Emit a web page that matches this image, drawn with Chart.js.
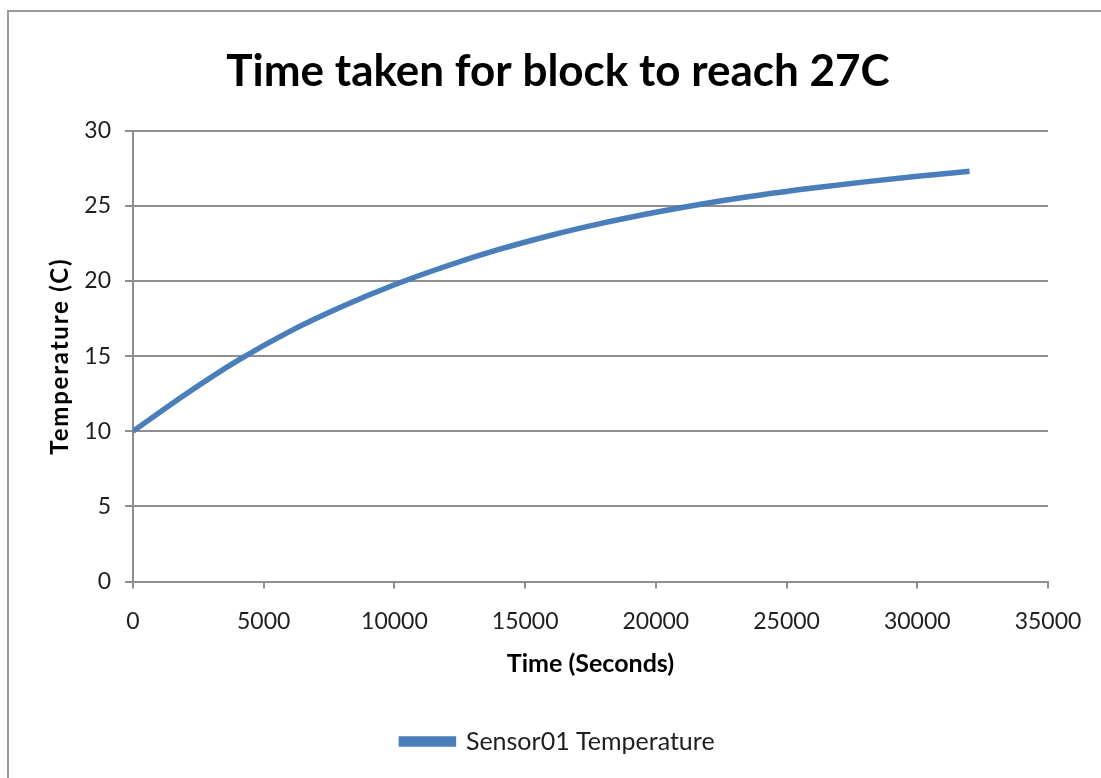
<!DOCTYPE html>
<html>
<head>
<meta charset="utf-8">
<script src="https://cdn.jsdelivr.net/npm/chart.js@4.4.1/dist/chart.umd.min.js"></script>
<style>
  html, body { margin: 0; padding: 0; background: #ffffff; }
  #wrap { position: relative; width: 1101px; height: 778px; overflow: hidden; }
  #frame { position: absolute; left: 7px; top: 10px; width: 1200px; height: 900px;
           border-left: 2px solid #9a9a9a; border-top: 2px solid #9a9a9a; }
  canvas { position: absolute; left: 0; top: 0; }
</style>
</head>
<body>
<div id="wrap">
  <div id="frame"></div>
  <canvas id="c" width="1101" height="778"></canvas>
</div>
<script>
const chartTitle = 'Time taken for block to reach 27C';
const xAxisTitle = 'Time (Seconds)';
const yAxisTitle = 'Temperature (C)';
const seriesName = 'Sensor01 Temperature';
const timeSeconds = [0, 2000, 4000, 6000, 8000, 10000, 12000, 14000, 16000, 18000, 20000, 22000, 24000, 26000, 28000, 30000, 32000];
const temperature = [10.00, 12.45, 14.70, 16.65, 18.30, 19.75, 21.00, 22.10, 23.05, 23.87, 24.58, 25.20, 25.73, 26.19, 26.60, 26.97, 27.30];
const xTicks = [0, 5000, 10000, 15000, 20000, 25000, 30000, 35000];
const yTicks = [0, 5, 10, 15, 20, 25, 30];

const lineColor = '#4a7ebb';
const gridColor = '#8e8e8e';
const textColor = '#1e1e1e';
const fontFamily = 'Lato, "Open Sans", sans-serif';

const points = timeSeconds.map((t, i) => ({ x: t, y: temperature[i] }));

function spacedTitle(axis, spacing) {
  if (axis._spacedTitle) return;
  const orig = axis.drawTitle;
  axis.drawTitle = function () {
    const ctx = this.ctx;
    ctx.save();
    if ('letterSpacing' in ctx) ctx.letterSpacing = spacing;
    orig.apply(this, arguments);
    ctx.restore();
  };
  axis._spacedTitle = true;
}

new Chart(document.getElementById('c'), {
  type: 'line',
  data: {
    datasets: [{
      label: seriesName,
      data: points,
      borderColor: lineColor,
      backgroundColor: lineColor,
      borderWidth: 5.5,
      pointRadius: 0,
      cubicInterpolationMode: 'monotone',
      fill: false,
      xAxisID: 'x',
      yAxisID: 'y'
    }]
  },
  options: {
    responsive: false,
    animation: false,
    devicePixelRatio: 1,
    layout: { padding: { left: 15, right: 0, top: 0, bottom: 14 } },
    plugins: {
      title: {
        display: true,
        text: chartTitle,
        color: '#000000',
        font: { family: fontFamily, size: 44, weight: 'bold' },
        padding: { top: 45, bottom: 33 }
      },
      legend: {
        display: true,
        position: 'bottom',
        labels: {
          color: textColor,
          font: { family: fontFamily, size: 25 },
          boxWidth: 52,
          boxHeight: 5,
          padding: 10
        }
      },
      tooltip: { enabled: false }
    },
    scales: {
      x: {
        type: 'linear',
        position: 'bottom',
        min: 0,
        max: 35000,
        afterBuildTicks: (axis) => { axis.ticks = xTicks.map(v => ({ value: v })); },
        afterFit: (axis) => { axis.height = 137.5; },
        ticks: {
          color: textColor,
          font: { family: fontFamily, size: 23 },
          padding: 19,
          maxRotation: 0,
          autoSkip: false,
          callback: (v) => String(v)
        },
        grid: {
          display: true,
          drawOnChartArea: false,
          drawTicks: true,
          tickLength: 7,
          color: gridColor,
          lineWidth: 2
        },
        border: { display: true, color: gridColor, width: 2 },
        title: {
          display: true,
          text: xAxisTitle,
          color: '#000000',
          font: { family: fontFamily, size: 25, weight: 'bold' },
          padding: { top: 0, bottom: 40 }
        }
      },
      y: {
        type: 'linear',
        position: 'left',
        min: 0,
        max: 30,
        afterBuildTicks: (axis) => { axis.ticks = yTicks.map(v => ({ value: v })); },
        afterFit: (axis) => { axis.width = 118; spacedTitle(axis, '1.8px'); },
        ticks: {
          color: textColor,
          font: { family: fontFamily, size: 23 },
          padding: 14,
          callback: (v) => String(v)
        },
        grid: {
          display: true,
          drawOnChartArea: true,
          drawTicks: true,
          tickLength: 8,
          color: gridColor,
          lineWidth: 2
        },
        border: { display: true, color: gridColor, width: 2 },
        title: {
          display: true,
          text: yAxisTitle,
          color: '#000000',
          font: { family: fontFamily, size: 24, weight: 'bold' },
          padding: { top: 31, bottom: 0 }
        }
      },
      spacer: {
        type: 'linear',
        position: 'right',
        display: true,
        afterFit: (axis) => { axis.width = 53; },
        ticks: { display: false },
        grid: { display: false, drawTicks: false },
        border: { display: false },
        title: { display: false }
      }
    }
  }
});
</script>
</body>
</html>
